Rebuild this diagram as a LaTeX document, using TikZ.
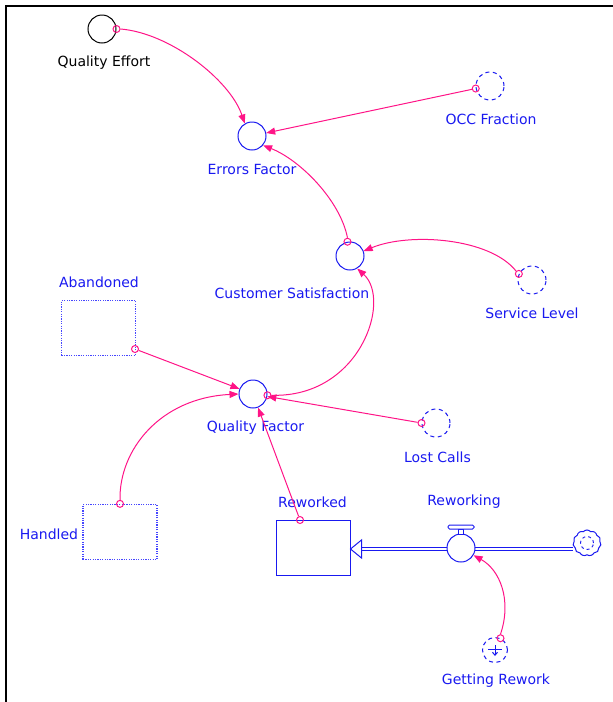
\documentclass[tikz,border=0pt]{standalone}
\usepackage{fontspec}
\setmainfont{DejaVu Sans}
\usetikzlibrary{arrows.meta,shapes.symbols}
\definecolor{linkpink}{RGB}{255,20,135}
\definecolor{diagblue}{RGB}{25,25,240}
\definecolor{dotblue}{RGB}{70,70,255}

\begin{document}
\begin{tikzpicture}[x=1pt,y=-1pt,
  every node/.style={font=\fontsize{14}{16}\selectfont},
  lbl/.style={text=diagblue, inner sep=0pt},
  blklbl/.style={text=black, inner sep=0pt},
  auxv/.style={circle, draw=diagblue, line width=1pt, minimum size=28pt, inner sep=0pt},
  ghost/.style={auxv, dash pattern=on 4pt off 3.5pt},
  stockbox/.style={draw=diagblue, line width=1pt, minimum width=74pt, minimum height=55pt, inner sep=0pt},
  ghoststock/.style={stockbox, draw=dotblue, line width=1.3pt, dash pattern=on 1.2pt off 1.2pt},
  tail/.style={circle, draw=linkpink, line width=1pt, minimum size=7pt, inner sep=0pt},
  link/.style={draw=linkpink, line width=1pt, -{Triangle[length=9pt,width=7pt]}},
  pipe/.style={draw=diagblue, line width=1pt, double=white, double distance=2.6pt}
]
\useasboundingbox (0,0) rectangle (613,702);

% frame
\draw[line width=2pt] (6,702) -- (6,6) -- (613,6);

% variables
\node[auxv, draw=black] (qe) at (102,29) {};
\node[blklbl] at (104,63) {Quality Effort};

\node[auxv] (ef) at (252,136) {};
\node[lbl] at (252,169) {Errors Factor};

\node[ghost] (occ) at (490,86) {};
\node[lbl] at (491,119) {OCC Fraction};

\node[auxv] (cs) at (350,256) {};
\node[lbl] at (292,293) {Customer Satisfaction};

\node[ghost] (sl) at (532,280) {};
\node[lbl] at (532,313) {Service Level};

\node[ghoststock] (ab) at (98.5,328) {};
\node[lbl] at (99,282) {Abandoned};

\node[auxv] (qf) at (253,394) {};
\node[lbl] at (255.5,428) {Quality Factor};

\node[ghost] (lc) at (436,423) {};
\node[lbl] at (437.5,457) {Lost Calls};

\node[ghoststock] (ha) at (120,532) {};
\node[lbl] at (49,534) {Handled};

\node[stockbox] (rw) at (313,547.5) {};
\node[lbl] at (312.5,502) {Reworked};

\node[ghost, minimum size=25pt] (gr) at (495,650) {};
\node[lbl] at (496,681) {Getting Rework};
\draw[diagblue, line width=1pt, -{Straight Barb[length=3pt,width=5pt]}] (gr.center) ++(0,-5) -- ++(0,11);
\draw[diagblue, line width=1pt] (gr.center) ++(-7,-1) -- ++(14,0);

% flow into Reworked
\node[cloud, cloud puffs=11, cloud puff arc=100, aspect=1.1, draw=diagblue, line width=1pt, minimum width=28pt, minimum height=26pt, inner sep=0pt] (cloud) at (587,543) {};
\draw[diagblue, line width=0.9pt, dash pattern=on 3pt off 3pt] (cloud.center) circle (6.5pt);
\coordinate (pipeend) at ([xshift=11pt]rw.east |- 0,549);
\draw[pipe] (cloud.west |- pipeend) -- (pipeend);
\draw[diagblue, line width=1pt, fill=white] (rw.east |- pipeend) -- ([yshift=-9pt]pipeend) -- ([yshift=9pt]pipeend) -- cycle;
\node[auxv, fill=white] (valve) at (461,548) {};
\draw[diagblue, line width=1pt, fill=white] (458.5,529) rectangle (463.5,534);
\draw[diagblue, line width=1pt, fill=white, rounded corners=1.5pt] (448,525) rectangle (474,529);
\node[lbl] at (464,502) {Reworking};

% tails of the links
\node[tail] (qe-t) at (qe.east) {};
\node[tail] (occ-t) at (occ.190) {};
\node[tail] (cs-t) at (cs.100) {};
\node[tail] (sl-t) at (sl.155) {};
\node[tail] (ab-t) at (135,349) {};
\node[tail] (qf-t) at (qf.-5) {};
\node[tail] (lc-t) at (lc.west) {};
\node[tail] (ha-t) at (ha.north) {};
\node[tail] (rw-t) at (300,520) {};
\node[tail] (gr-t) at (gr.65) {};

% links
\draw[link] (qe-t.east) .. controls (170,33) and (230,80) .. (ef.120);
\draw[link] (occ-t) -- (ef);
\draw[link] (cs-t.north) .. controls (340,200) and (300,160) .. (ef.-40);
\draw[link] (sl-t.north west) .. controls (490,238) and (410,232) .. (cs.20);
\draw[link] (ab-t) -- (qf);
\draw[link] (qf-t.east) .. controls (360,398) and (392,300) .. (cs.-60);
\draw[link] (lc-t) -- (qf);
\draw[link] (ha-t.north) .. controls (119,450) and (160,398) .. (qf.west);
\draw[link] (rw-t) -- (qf);
\draw[link] (gr-t.north) .. controls (512,600) and (500,570) .. (valve.-30);
\end{tikzpicture}
\end{document}
